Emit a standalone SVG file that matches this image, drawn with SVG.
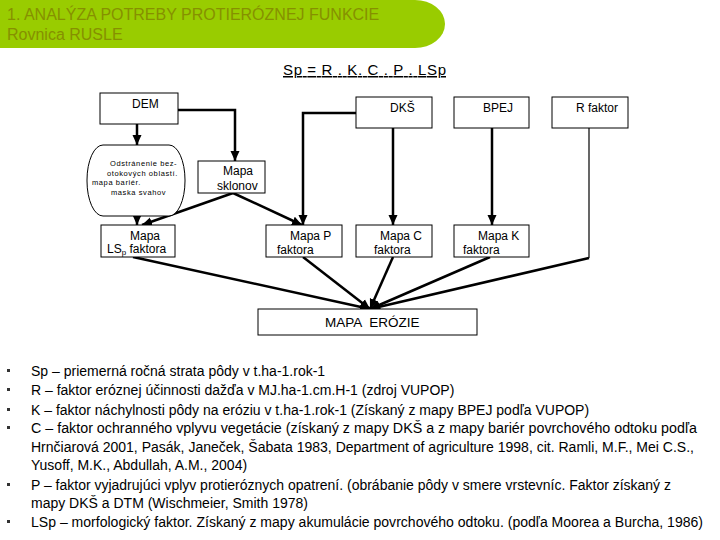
<svg xmlns="http://www.w3.org/2000/svg" width="720" height="540" viewBox="0 0 720 540">
<defs>
<style>
.box{fill:#fff;stroke:#000;stroke-width:1}
.t{font-family:"Liberation Sans",Arial,sans-serif;font-size:12px;fill:#000}
.small{font-family:"Liberation Sans",Arial,sans-serif;font-size:7.5px;fill:#000;letter-spacing:0.6px}
.list{font-family:"Liberation Sans",Arial,sans-serif;font-size:14px;fill:#000}
.c{fill:none;stroke:#000;stroke-width:2.5}
.thin{fill:none;stroke:#000;stroke-width:1.2}
.b{fill:#333}
</style>
<marker id="ah" markerUnits="userSpaceOnUse" markerWidth="10" markerHeight="10" viewBox="0 0 10 10" refX="10" refY="5" orient="auto">
<path d="M0 0.5 L10 5 L0 9.5 Z" fill="#000"/>
</marker>
</defs>
<rect width="720" height="540" fill="#fff"/>
<g id="header">
<path d="M0 0 H415 A30 24 0 0 1 415 48 H0 Z" fill="#99cc00"/>
<text x="7" y="20" font-family="'Liberation Sans',Arial,sans-serif" font-size="16" fill="#869000">1. ANALÝZA POTREBY PROTIERÓZNEJ FUNKCIE</text>
<text x="7" y="40" font-family="'Liberation Sans',Arial,sans-serif" font-size="16" fill="#869000">Rovnica RUSLE</text>
</g>
<g id="formula">
<text x="283" y="75" font-family="'Liberation Sans',Arial,sans-serif" font-size="15" fill="#000" text-decoration="underline" textLength="163" lengthAdjust="spacing">Sp = R . K. C . P . LSp</text>
</g>
<g id="connectors">
<path class="c" d="M137 124 V145" marker-end="url(#ah)"/>
<path class="c" d="M178 110 H235 V161" marker-end="url(#ah)"/>
<path class="c" d="M137 216 V225" marker-end="url(#ah)"/>
<path class="c" d="M233 193 L142 225" marker-end="url(#ah)"/>
<path class="c" d="M233 193 L302 225" marker-end="url(#ah)"/>
<path class="c" d="M356 113 H303 V225" marker-end="url(#ah)"/>
<path class="c" d="M393 128 V225" marker-end="url(#ah)"/>
<path class="c" d="M492 128 V225" marker-end="url(#ah)"/>
<path class="thin" d="M589 128 V258"/>
<path class="c" d="M589 258 L370 309" marker-end="url(#ah)"/>
<path class="c" d="M133 257 L370 309" marker-end="url(#ah)"/>
<path class="c" d="M303 257 L370 309" marker-end="url(#ah)"/>
<path class="c" d="M393 257 L370 309" marker-end="url(#ah)"/>
<path class="c" d="M490 257 L370 309" marker-end="url(#ah)"/>
</g>
<g id="dem">
<rect class="box" x="100" y="93" width="78" height="31"/>
<text class="t" x="132" y="108">DEM</text>
</g>
<g id="odstranenie">
<rect class="box" x="87" y="145" width="98" height="71" rx="16" ry="35"/>
<text class="small" x="110" y="166">Odstránenie bez-</text>
<text class="small" x="107" y="176">otokových oblastí.</text>
<text class="small" x="92" y="185">mapa bariér.</text>
<text class="small" x="111" y="195">maska svahov</text>
</g>
<g id="sklonov">
<rect class="box" x="198" y="161" width="67" height="32"/>
<text class="t" x="223" y="175">Mapa</text>
<text class="t" x="217" y="190">sklonov</text>
</g>
<g id="lsp">
<rect class="box" x="101" y="225" width="74" height="32"/>
<text class="t" x="130" y="240">Mapa</text>
<text class="t" x="107" y="253">LS<tspan font-size="8" dy="2">p</tspan><tspan dy="-2"> faktora</tspan></text>
</g>
<g id="dks">
<rect class="box" x="356" y="97" width="76" height="31"/>
<text class="t" x="390" y="112">DKŠ</text>
</g>
<g id="bpej">
<rect class="box" x="454" y="97" width="75" height="31"/>
<text class="t" x="483" y="112">BPEJ</text>
</g>
<g id="rfaktor">
<rect class="box" x="552" y="97" width="76" height="31"/>
<text class="t" x="576" y="112">R faktor</text>
</g>
<g id="mapap">
<rect class="box" x="266" y="225" width="76" height="32"/>
<text class="t" x="290" y="240">Mapa P</text>
<text class="t" x="277" y="254">faktora</text>
</g>
<g id="mapac">
<rect class="box" x="356" y="225" width="76" height="32"/>
<text class="t" x="380" y="240">Mapa C</text>
<text class="t" x="374" y="254">faktora</text>
</g>
<g id="mapak">
<rect class="box" x="454" y="225" width="75" height="32"/>
<text class="t" x="478" y="240">Mapa K</text>
<text class="t" x="463" y="254">faktora</text>
</g>
<g id="erozie">
<rect class="box" x="258" y="309" width="219" height="26"/>
<text x="325" y="327" font-family="'Liberation Sans',Arial,sans-serif" font-size="13.5" word-spacing="4" fill="#000">MAPA ERÓZIE</text>
</g>
<g id="legend">
<rect class="b" x="7" y="369" width="3" height="3"/>
<rect class="b" x="7" y="388" width="3" height="3"/>
<rect class="b" x="7" y="408" width="3" height="3"/>
<rect class="b" x="7" y="426" width="3" height="3"/>
<rect class="b" x="7" y="483" width="3" height="3"/>
<rect class="b" x="7" y="520" width="3" height="3"/>
<text class="list" x="31" y="376">Sp – priemerná ročná strata pôdy v t.ha-1.rok-1</text>
<text class="list" x="31" y="395">R – faktor eróznej účinnosti dažďa v MJ.ha-1.cm.H-1 (zdroj VUPOP)</text>
<text class="list" x="31" y="415">K – faktor náchylnosti pôdy na eróziu v t.ha-1.rok-1 (Získaný z mapy BPEJ podľa VUPOP)</text>
<text class="list" x="31" y="433" textLength="666" lengthAdjust="spacingAndGlyphs">C – faktor ochranného vplyvu vegetácie (získaný z mapy DKŠ a z mapy bariér povrchového odtoku podľa</text>
<text class="list" x="31" y="452" textLength="663" lengthAdjust="spacingAndGlyphs">Hrnčiarová 2001, Pasák, Janeček, Šabata 1983, Department of agriculture 1998, cit. Ramli, M.F., Mei C.S.,</text>
<text class="list" x="31" y="470">Yusoff, M.K., Abdullah, A.M., 2004)</text>
<text class="list" x="31" y="490" textLength="640" lengthAdjust="spacingAndGlyphs">P – faktor vyjadrujúci vplyv protieróznych opatrení. (obrábanie pôdy v smere vrstevníc. Faktor získaný z</text>
<text class="list" x="31" y="508">mapy DKŠ a DTM (Wischmeier, Smith 1978)</text>
<text class="list" x="31" y="527" textLength="672" lengthAdjust="spacingAndGlyphs">LSp – morfologický faktor. Získaný z mapy akumulácie povrchového odtoku. (podľa Moorea a Burcha, 1986)</text>
</g>
</svg>
